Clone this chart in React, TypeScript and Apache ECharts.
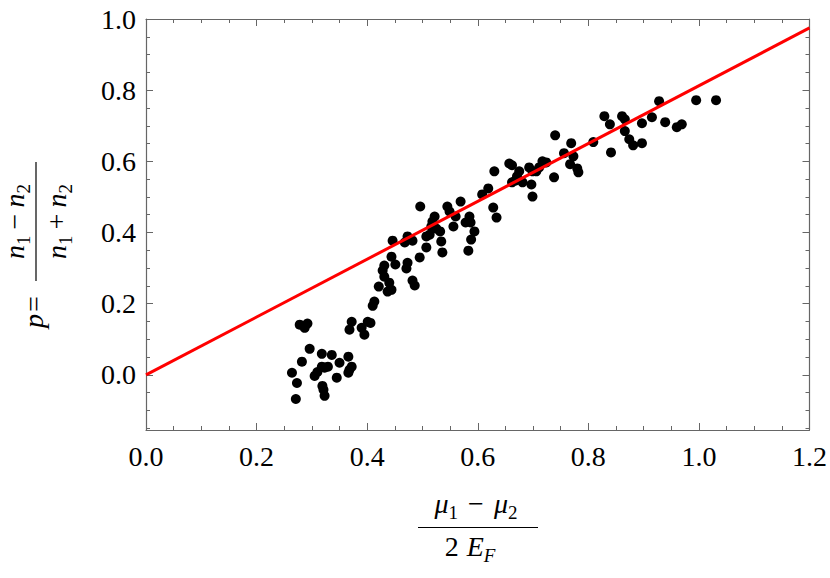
import React, { useEffect, useRef } from "react";
import * as echarts from "echarts";

// measured points: x = (mu1 - mu2) / 2E_F, y = p
const pointX = [
  0.278, 0.292, 0.287, 0.296, 0.282, 0.264, 0.273, 0.271, 0.318, 0.336,
  0.350, 0.366, 0.318, 0.323, 0.329, 0.310, 0.305, 0.319, 0.321, 0.323,
  0.345, 0.368, 0.372, 0.366, 0.372, 0.368, 0.390, 0.395, 0.401, 0.406,
  0.410, 0.413, 0.421, 0.440, 0.444, 0.437, 0.431, 0.428, 0.431, 0.444,
  0.451, 0.473, 0.471, 0.482, 0.486, 0.495, 0.446, 0.473, 0.482, 0.468,
  0.496, 0.507, 0.507, 0.513, 0.516, 0.518, 0.522, 0.525, 0.532, 0.534,
  0.536, 0.545, 0.549, 0.560, 0.556, 0.569, 0.578, 0.587, 0.585, 0.594,
  0.588, 0.583, 0.608, 0.619, 0.628, 0.634, 0.630, 0.657, 0.662, 0.675,
  0.671, 0.668, 0.662, 0.681, 0.693, 0.699, 0.697, 0.699, 0.711, 0.706,
  0.717, 0.724, 0.740, 0.738, 0.769, 0.756, 0.773, 0.767, 0.780, 0.782,
  0.809, 0.841, 0.839, 0.829, 0.861, 0.866, 0.866, 0.874, 0.881, 0.897,
  0.897, 0.915, 0.928, 0.939, 0.960, 0.969, 0.995, 1.031,
];
const pointY = [
  0.141, 0.144, 0.132, 0.073, 0.037, 0.006, -0.023, -0.068, 0.059, 0.056,
  0.034, 0.051, 0.023, 0.020, 0.023, 0.008, -0.003, -0.031, -0.042, -0.059,
  -0.008, 0.014, 0.023, 0.006, 0.149, 0.127, 0.132, 0.113, 0.149, 0.146,
  0.194, 0.206, 0.248, 0.259, 0.239, 0.234, 0.276, 0.293, 0.307, 0.332,
  0.310, 0.315, 0.299, 0.265, 0.251, 0.330, 0.377, 0.389, 0.377, 0.372,
  0.473, 0.358, 0.389, 0.394, 0.417, 0.431, 0.445, 0.411, 0.403, 0.375,
  0.344, 0.473, 0.459, 0.445, 0.417, 0.487, 0.428, 0.428, 0.445, 0.403,
  0.380, 0.349, 0.507, 0.524, 0.470, 0.442, 0.572, 0.594, 0.589, 0.572,
  0.558, 0.546, 0.541, 0.541, 0.583, 0.572, 0.535, 0.501, 0.583, 0.572,
  0.600, 0.597, 0.673, 0.555, 0.651, 0.623, 0.614, 0.592, 0.580, 0.569,
  0.654, 0.625, 0.704, 0.727, 0.727, 0.718, 0.685, 0.662, 0.645, 0.651,
  0.707, 0.724, 0.769, 0.710, 0.696, 0.704, 0.772, 0.772,
];

// fitted red line endpoints
const lineX = [0, 1.2];
const lineY = [0, 0.975];

const yMajorTicks = [0, 0.2, 0.4, 0.6, 0.8, 1.0];
const yMinorTicks = [
  -0.15, -0.1, -0.05, 0.05, 0.1, 0.15, 0.25, 0.3, 0.35, 0.45, 0.5, 0.55,
  0.65, 0.7, 0.75, 0.85, 0.9, 0.95,
];

const FONT = "Liberation Serif, serif";
const FRAME = "#666666";

type Tok = { t: string; it?: boolean; sub?: boolean; gap?: number };

let measureCtx: CanvasRenderingContext2D | null = null;
function measure(t: string, size: number, italic: boolean) {
  if (!measureCtx) measureCtx = document.createElement("canvas").getContext("2d");
  measureCtx!.font = `${italic ? "italic " : ""}${size}px ${FONT}`;
  return measureCtx!.measureText(t).width;
}

function layout(tokens: Tok[], cx: number, baseline: number) {
  const BIG = 28;
  const SUB = 19;
  const widths = tokens.map((k) =>
    k.gap !== undefined ? k.gap : measure(k.t, k.sub ? SUB : BIG, !!k.it)
  );
  const total = widths.reduce((a, b) => a + b, 0);
  let x = cx - total / 2;
  const els: any[] = [];
  tokens.forEach((k, i) => {
    if (k.gap === undefined) {
      const size = k.sub ? SUB : BIG;
      const base = baseline + (k.sub ? 6 : 0);
      els.push({
        type: "text",
        x,
        y: base - 0.3375 * size,
        style: {
          text: k.t,
          fontFamily: FONT,
          fontSize: size,
          fontStyle: k.it ? "italic" : "normal",
          fill: "#000",
          align: "left",
          verticalAlign: "middle",
        },
      });
    }
    x += widths[i];
  });
  return els;
}

export default function App() {
  const ref = useRef<HTMLDivElement>(null);
  useEffect(() => {
    if (!ref.current) return;
    const chart = echarts.init(ref.current, null, { renderer: "svg" });
    const scatterData = pointX.map((x, i) => [x, pointY[i]]);
    const lineData = lineX.map((x, i) => [x, lineY[i]]);

    const yBase = { type: "value", min: -0.155, max: 1.0, splitLine: { show: false } };
    const xBase = {
      type: "value",
      min: 0,
      max: 1.2,
      interval: 0.2,
      splitLine: { show: false },
      axisLine: { show: true, onZero: false, lineStyle: { color: FRAME, width: 1.2 } },
      axisTick: { show: true, inside: true, length: 7, lineStyle: { color: FRAME } },
      minorTick: { show: true, splitNumber: 4, length: 4, lineStyle: { color: FRAME } },
    };

    const xNum = layout(
      [
        { t: "μ", it: true },
        { t: "1", sub: true },
        { t: "", gap: 10 },
        { t: "−" },
        { t: "", gap: 10 },
        { t: "μ", it: true },
        { t: "2", sub: true },
      ],
      476,
      513
    );
    const xDen = layout(
      [{ t: "2" }, { t: "", gap: 8 }, { t: "E", it: true }, { t: "F", it: true, sub: true }],
      470,
      556
    );

    const yP = layout([{ t: "p", it: true }, { t: "", gap: 2 }, { t: "=" }], -62, 7);
    const yNum = layout(
      [
        { t: "n", it: true },
        { t: "1", sub: true },
        { t: "", gap: 6 },
        { t: "−" },
        { t: "", gap: 6 },
        { t: "n", it: true },
        { t: "2", sub: true },
      ],
      28.5,
      -12
    );
    const yDen = layout(
      [
        { t: "n", it: true },
        { t: "1", sub: true },
        { t: "", gap: 6 },
        { t: "+" },
        { t: "", gap: 6 },
        { t: "n", it: true },
        { t: "2", sub: true },
      ],
      28.5,
      30
    );

    chart.setOption({
      animation: false,
      backgroundColor: "#ffffff",
      grid: { left: 146, right: 19, top: 19, bottom: 148, containLabel: false },
      xAxis: [
        {
          ...xBase,
          position: "bottom",
          axisLabel: {
            show: true,
            fontFamily: FONT,
            fontSize: 28,
            color: "#000",
            margin: 12,
            showMinLabel: true,
            showMaxLabel: true,
            formatter: (v: number) => v.toFixed(1),
          },
        },
        { ...xBase, position: "top", axisLabel: { show: false } },
      ],
      yAxis: [
        {
          ...yBase,
          position: "left",
          axisLine: { show: true, onZero: false, lineStyle: { color: FRAME, width: 1.2 } },
          axisTick: {
            show: true,
            inside: true,
            length: 7,
            customValues: yMajorTicks,
            lineStyle: { color: FRAME },
          },
          axisLabel: {
            show: true,
            customValues: yMajorTicks,
            fontFamily: FONT,
            fontSize: 28,
            color: "#000",
            margin: 10,
            formatter: (v: number) => v.toFixed(1),
          },
        },
        {
          ...yBase,
          position: "left",
          axisLine: { show: false, onZero: false },
          axisTick: {
            show: true,
            inside: true,
            length: 4,
            customValues: yMinorTicks,
            lineStyle: { color: FRAME },
          },
          axisLabel: { show: false },
        },
        {
          ...yBase,
          position: "right",
          axisLine: { show: true, onZero: false, lineStyle: { color: FRAME, width: 1.2 } },
          axisTick: {
            show: true,
            inside: true,
            length: 7,
            customValues: yMajorTicks,
            lineStyle: { color: FRAME },
          },
          axisLabel: { show: false },
        },
        {
          ...yBase,
          position: "right",
          axisLine: { show: false, onZero: false },
          axisTick: {
            show: true,
            inside: true,
            length: 4,
            customValues: yMinorTicks,
            lineStyle: { color: FRAME },
          },
          axisLabel: { show: false },
        },
      ],
      series: [
        {
          type: "scatter",
          xAxisIndex: 0,
          yAxisIndex: 0,
          data: scatterData,
          symbol: "circle",
          symbolSize: 10,
          itemStyle: { color: "#000000", opacity: 1 },
          z: 2,
        },
        {
          type: "line",
          xAxisIndex: 0,
          yAxisIndex: 0,
          data: lineData,
          showSymbol: false,
          symbol: "none",
          lineStyle: { color: "#ff0000", width: 3 },
          z: 3,
        },
      ],
      graphic: [
        ...xNum,
        {
          type: "line",
          shape: { x1: 418, y1: 527.5, x2: 538, y2: 527.5 },
          style: { stroke: "#000", lineWidth: 1.2 },
        },
        ...xDen,
        {
          type: "group",
          x: 36,
          y: 250,
          rotation: Math.PI / 2,
          children: [
            ...yP,
            {
              type: "line",
              shape: { x1: -31, y1: 0, x2: 88, y2: 0 },
              style: { stroke: "#000", lineWidth: 1.2 },
            },
            ...yNum,
            ...yDen,
          ],
        },
      ],
    });
    return () => chart.dispose();
  }, []);
  return (
    <div
      ref={ref}
      style={{ position: "fixed", left: 0, top: 0, width: 830, height: 578, background: "#fff" }}
    />
  );
}
